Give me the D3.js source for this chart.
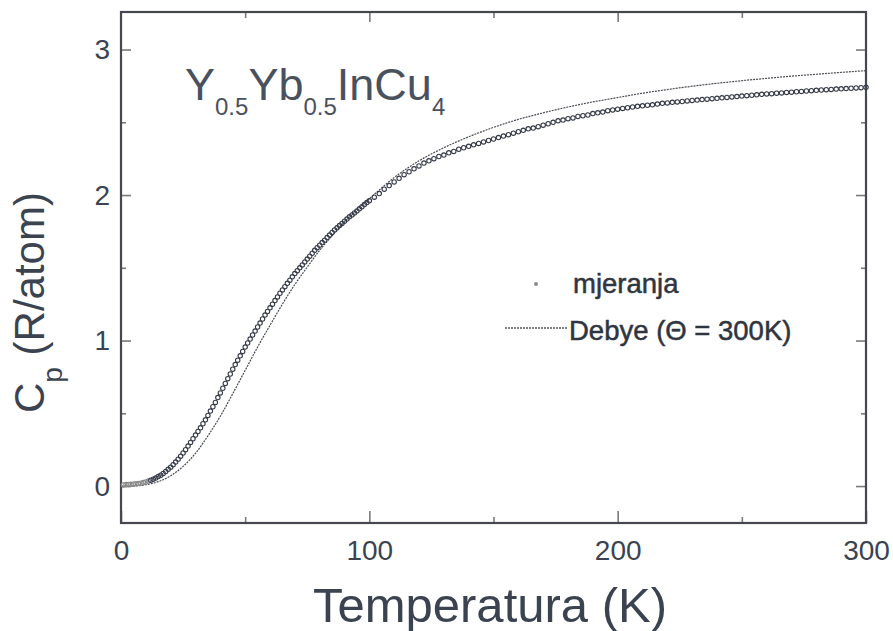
<!DOCTYPE html>
<html><head><meta charset="utf-8">
<script src="https://cdn.jsdelivr.net/npm/d3@7"></script>
<style>
body{margin:0;background:#fff}
svg{display:block}
text{font-family:"Liberation Sans",Arial,Helvetica,sans-serif}
</style>
</head><body>
<svg id="chart" width="893" height="631"></svg>
<script>
// ---- data ----
const measuredT = [1,2,3,4,5,6,7,8,9,10,11,12,13,14,15,16,17,18,19,20,21,22,23,24,25,26,27,28,29,30,
31,32,33,34,35,36,37,38,39,40,41,42,43,44,45,46,47,48,49,50,51,52,53,54,55,56,57,58,59,60,
61,62,63,64,65,66,67,68,69,70,71,72,73,74,75,76,77,78,79,80,81,82,83,84,85,86,87,88,89,90,
91,92,93,94,95,96,97,98,99,100,
102,104,106,108,110,112,114,116,118,120,122,124,126,128,130,132,134,136,138,140,
142,144,146,148,150,152,154,156,158,160,162,164,166,168,170,172,174,176,178,180,
182,184,186,188,190,192,194,196,198,200,202,204,206,208,210,212,214,216,218,220,
222,224,226,228,230,232,234,236,238,240,242,244,246,248,250,252,254,256,258,260,
262,264,266,268,270,272,274,276,278,280,282,284,286,288,290,292,294,296,298,300];
const measuredCp = [0.008,0.010,0.011,0.012,0.013,0.015,0.017,0.020,0.024,0.028,0.034,0.040,0.047,0.055,0.065,0.075,0.087,0.100,0.115,0.130,
0.147,0.165,0.185,0.205,0.227,0.250,0.275,0.300,0.325,0.350,
0.375,0.400,0.428,0.455,0.485,0.515,0.545,0.575,0.608,0.640,0.672,0.705,0.738,0.770,0.803,0.835,0.865,0.895,0.925,0.955,
0.983,1.010,1.038,1.065,1.093,1.120,1.148,1.175,1.200,1.225,
1.250,1.275,1.300,1.325,1.348,1.370,1.393,1.415,1.438,1.460,1.480,1.500,1.520,1.540,1.560,1.580,1.600,1.620,1.638,1.655,
1.673,1.690,1.708,1.725,1.743,1.760,1.775,1.790,1.805,1.820,
1.835,1.850,1.863,1.877,1.891,1.905,1.920,1.935,1.948,1.960,
1.985,2.010,2.040,2.065,2.090,2.115,2.140,2.160,2.180,2.200,2.220,2.235,2.250,2.265,2.275,2.290,2.300,2.315,2.325,2.335,
2.345,2.355,2.365,2.375,2.385,2.395,2.405,2.415,2.425,2.435,2.445,2.455,2.460,2.470,2.480,2.490,2.500,2.510,2.515,2.525,
2.530,2.540,2.545,2.550,2.560,2.565,2.570,2.580,2.585,2.590,2.595,2.600,2.605,2.610,2.613,2.617,2.620,2.625,2.630,2.633,
2.637,2.640,2.643,2.647,2.650,2.653,2.656,2.659,2.662,2.665,2.668,2.671,2.674,2.677,2.680,2.683,2.686,2.689,2.692,2.695,
2.697,2.700,2.702,2.705,2.707,2.710,2.712,2.715,2.717,2.720,2.722,2.724,2.726,2.728,2.730,2.732,2.734,2.736,2.738,2.740];

const debyeT  = [0,5,10,15,20,25,30,35,40,45,50,55,60,65,70,75,80,85,90,95,100,
110,120,130,140,150,160,170,180,190,200,210,220,230,240,250,260,270,280,290,300];
const debyeCp = [0,0.001,0.009,0.030,0.070,0.135,0.225,0.345,0.480,0.635,0.795,0.955,1.105,1.250,1.385,1.505,1.620,1.720,1.815,1.900,1.975,
2.120,2.235,2.325,2.400,2.465,2.520,2.565,2.605,2.640,2.670,2.700,2.725,2.748,2.768,2.786,2.802,2.817,2.830,2.843,2.855];

const xMajorTicks = [0,100,200,300];
const xMinorTicks = [50,150,250];
const yMajorTicks = [0,1,2,3];
const yMinorTicks = [0.5,1.5,2.5];

const legendLabels = ["mjeranja", "Debye (\u0398 = 300K)"];
const xTitle = "Temperatura (K)";

// ---- drawing ----
const svg = d3.select("#chart");
const L = 121, R = 866, T = 12, B = 523;
const x = d3.scaleLinear().domain([0,300]).range([L,R]);
const y = d3.scaleLinear().domain([-0.254,3.258]).range([B,T]);

const textCol = "#3b4350";
const tickCol = "#7a7a7a";

function styleAxis(g){
  g.select(".domain").remove();
  g.selectAll(".tick line").attr("stroke",tickCol).attr("stroke-width",1.6);
  g.selectAll(".tick text").attr("fill",textCol).style("font-size","28px")
   .style("font-family",'"Liberation Sans",Arial,sans-serif');
}

// bottom
svg.append("g").attr("transform",`translate(0,${B})`)
  .call(d3.axisBottom(x).tickValues(xMajorTicks).tickSizeInner(-12).tickSizeOuter(0).tickPadding(17).tickFormat(d3.format("d")))
  .call(styleAxis);
svg.append("g").attr("transform",`translate(0,${B})`)
  .call(d3.axisBottom(x).tickValues(xMinorTicks).tickSizeInner(-6).tickSizeOuter(0).tickFormat(""))
  .call(styleAxis);
// top
svg.append("g").attr("transform",`translate(0,${T})`)
  .call(d3.axisTop(x).tickValues(xMajorTicks.slice(1,3)).tickSizeInner(-10).tickSizeOuter(0).tickFormat(""))
  .call(styleAxis);
svg.append("g").attr("transform",`translate(0,${T})`)
  .call(d3.axisTop(x).tickValues(xMinorTicks).tickSizeInner(-6).tickSizeOuter(0).tickFormat(""))
  .call(styleAxis);
// left
svg.append("g").attr("transform",`translate(${L},0)`)
  .call(d3.axisLeft(y).tickValues(yMajorTicks).tickSizeInner(-10).tickSizeOuter(0).tickPadding(11).tickFormat(d3.format("d")))
  .call(styleAxis);
svg.append("g").attr("transform",`translate(${L},0)`)
  .call(d3.axisLeft(y).tickValues(yMinorTicks).tickSizeInner(-5).tickSizeOuter(0).tickFormat(""))
  .call(styleAxis);
// right
svg.append("g").attr("transform",`translate(${R},0)`)
  .call(d3.axisRight(y).tickValues(yMajorTicks).tickSizeInner(-10).tickSizeOuter(0).tickFormat(""))
  .call(styleAxis);
svg.append("g").attr("transform",`translate(${R},0)`)
  .call(d3.axisRight(y).tickValues(yMinorTicks).tickSizeInner(-5).tickSizeOuter(0).tickFormat(""))
  .call(styleAxis);

// frame
svg.append("rect").attr("x",L).attr("y",T).attr("width",R-L).attr("height",B-T)
  .attr("fill","none").attr("stroke","#45484f").attr("stroke-width",2.2);

// Debye line
const debyeData = debyeT.map((t,i)=>({t, c: debyeCp[i]}));
svg.append("path").datum(debyeData)
  .attr("fill","none").attr("stroke","#4a4d55").attr("stroke-width",1.2)
  .attr("stroke-dasharray","2,1")
  .attr("d", d3.line().x(d=>x(d.t)).y(d=>y(d.c)).curve(d3.curveMonotoneX));

// measured circles
const measData = measuredT.map((t,i)=>({t, c: measuredCp[i]}));
svg.append("g").selectAll("circle").data(measData).join("circle")
  .attr("cx",d=>x(d.t)).attr("cy",d=>y(d.c)).attr("r",2.2)
  .attr("fill","none").attr("stroke",d=>d.t<12?"#8a8a8a":"#353a47").attr("stroke-width",1.1);

// title
const title = svg.append("text").attr("x",185).attr("y",100).attr("fill","#4a515e").style("font-size","45px");
title.append("tspan").text("Y");
title.append("tspan").attr("dy",15).style("font-size","24px").text("0.5");
title.append("tspan").attr("dy",-15).text("Yb");
title.append("tspan").attr("dy",15).style("font-size","24px").text("0.5");
title.append("tspan").attr("dy",-15).text("InCu");
title.append("tspan").attr("dy",15).style("font-size","24px").text("4");

// y axis title
const yt = svg.append("text").attr("transform","translate(44,413) rotate(-90)")
  .attr("fill",textCol).style("font-size","42px").attr("text-anchor","start");
yt.append("tspan").text("C");
yt.append("tspan").attr("dy",18).style("font-size","28px").text("p");
yt.append("tspan").attr("dy",-18).text(" (R/atom)");

// x axis title
svg.append("text").attr("x",490).attr("y",622).attr("text-anchor","middle")
  .attr("fill",textCol).style("font-size","49px").text(xTitle);

// legend
svg.append("circle").attr("cx",536).attr("cy",284).attr("r",2).attr("fill","#8a8a8a");
svg.append("text").attr("x",573).attr("y",293).attr("fill","#2f3540").attr("stroke","#2f3540").attr("stroke-width",0.5)
  .style("font-size","27.5px").text(legendLabels[0]);
svg.append("line").attr("x1",505).attr("x2",567).attr("y1",328).attr("y2",328)
  .attr("stroke","#555").attr("stroke-width",1.3).attr("stroke-dasharray","2,1");
svg.append("text").attr("x",569).attr("y",340).attr("fill","#2f3540").attr("stroke","#2f3540").attr("stroke-width",0.5)
  .style("font-size","27.5px").text(legendLabels[1]);
</script>
</body></html>
